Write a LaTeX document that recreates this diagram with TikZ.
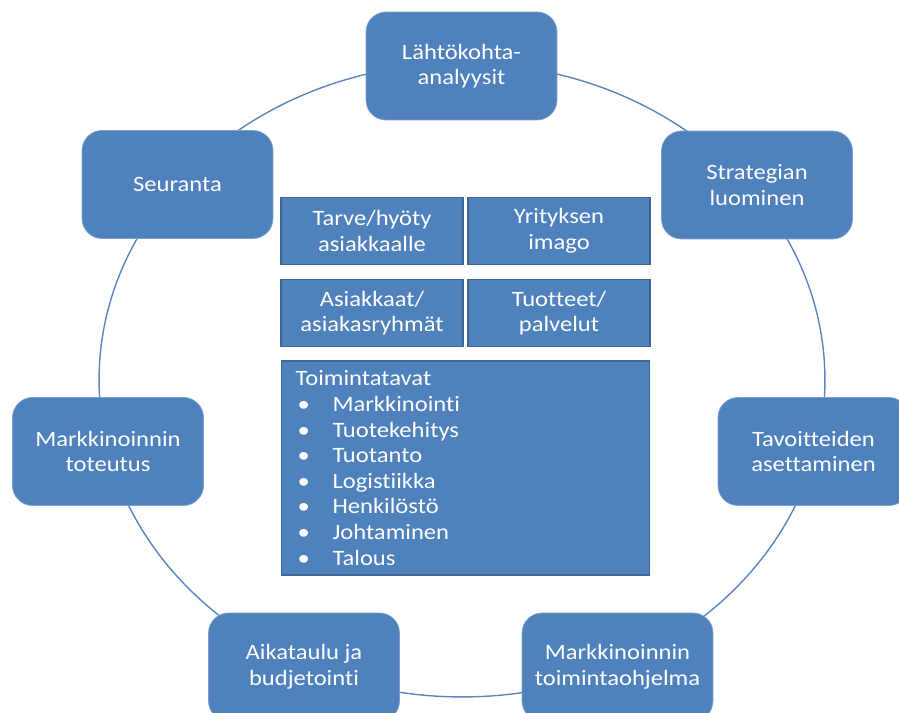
\documentclass[tikz,border=0pt]{standalone}
\usepackage{fontspec}
\setmainfont{Carlito}[FakeStretch=1.12,Ligatures={NoCommon,NoRequired,NoContextual}]
\usepackage{xcolor}
\usetikzlibrary{positioning}

\definecolor{boxfill}{HTML}{4F81BD}
\definecolor{boxline}{HTML}{3C6496}
\definecolor{ringline}{HTML}{5A86BE}

\begin{document}
\begin{tikzpicture}[x=0.02cm,y=-0.02cm,
    phase/.style={rectangle,rounded corners=0.4cm,draw=boxfill!75!white,line width=0.4pt,fill=boxfill,
        minimum width=3.82cm,minimum height=2.16cm,text=white,align=center,
        font=\fontsize{12.5}{14.6}\selectfont},
    core/.style={rectangle,draw=boxline,line width=1pt,fill=boxfill,
        minimum width=3.64cm,minimum height=1.34cm,text=white,align=center,
        font=\fontsize{12.5}{14.6}\selectfont}]
    \useasboundingbox (0,0) rectangle (899,713);
    \clip (0,0) rectangle (899,713);

    % Kehä
    \draw[ringline,line width=0.8pt] (462,380) ellipse [x radius=7.26cm,y radius=6.34cm];

    % Vaiheet kehällä
    \node[phase] (analyysit) at (461.5,66) {Lähtökohta-\\analyysit};
    \node[phase] (strategia) at (757,185) {Strategian\\luominen};
    \node[phase] (tavoitteet) at (813.5,451.5) {Tavoitteiden\\asettaminen};
    \node[phase] (ohjelma) at (617.5,667) {Markkinoinnin\\toimintaohjelma};
    \node[phase] (budjetti) at (304,667) {Aikataulu ja\\budjetointi};
    \node[phase] (toteutus) at (108,451.5) {Markkinoinnin\\toteutus};
    \node[phase] (seuranta) at (177.5,184.5) {Seuranta};

    % Keskusta
    \node[core] (tarve) at (372,231) {Tarve/hyöty\\asiakkaalle};
    \node[core] (imago) at (559,231) {Yrityksen\\imago};
    \node[core] (asiakkaat) at (372,313) {Asiakkaat/\\asiakasryhmät};
    \node[core] (tuotteet) at (559,313) {Tuotteet/\\palvelut};

    % Toimintatavat
    \node[core,align=left,minimum width=7.36cm,minimum height=4.28cm,
        inner xsep=0.28cm,text width=6.8cm] (tavat) at (465.5,468) {%
        Toimintatavat\\
        \makebox[0.74cm][l]{\hspace{0.04cm}\textbullet}Markkinointi\\
        \makebox[0.74cm][l]{\hspace{0.04cm}\textbullet}Tuotekehitys\\
        \makebox[0.74cm][l]{\hspace{0.04cm}\textbullet}Tuotanto\\
        \makebox[0.74cm][l]{\hspace{0.04cm}\textbullet}Logistiikka\\
        \makebox[0.74cm][l]{\hspace{0.04cm}\textbullet}Henkilöstö\\
        \makebox[0.74cm][l]{\hspace{0.04cm}\textbullet}Johtaminen\\
        \makebox[0.74cm][l]{\hspace{0.04cm}\textbullet}Talous};
\end{tikzpicture}
\end{document}
